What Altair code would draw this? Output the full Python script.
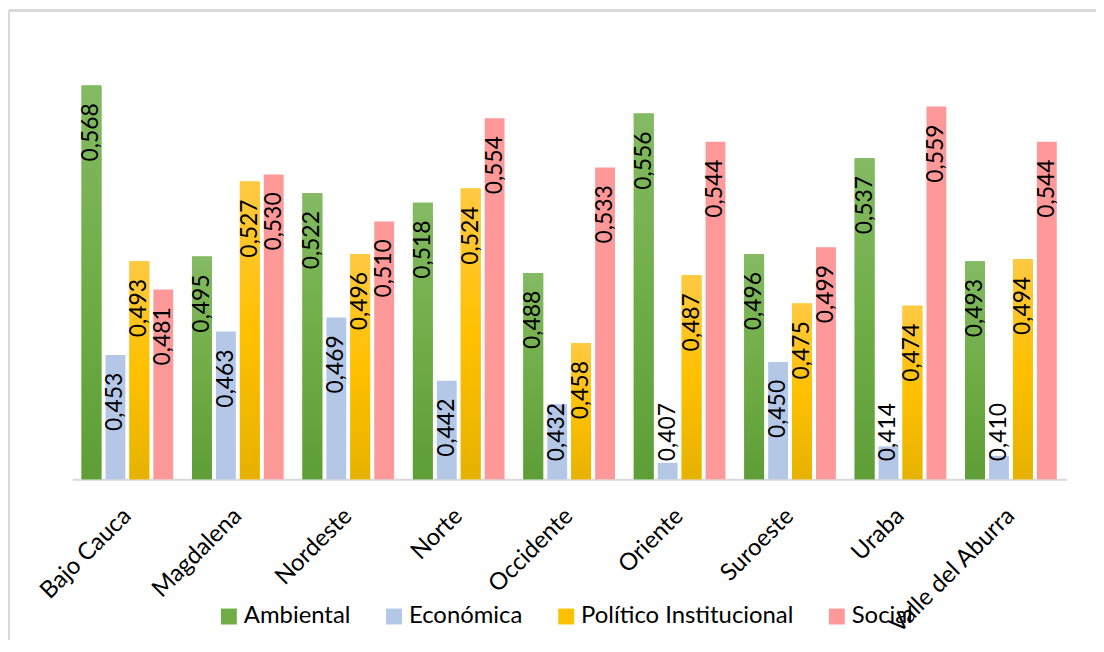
import altair as alt
import pandas as pd

regions = ["Bajo Cauca", "Magdalena", "Nordeste", "Norte", "Occidente",
           "Oriente", "Suroeste", "Uraba", "Valle del Aburra"]
series = ["Ambiental", "Económica", "Político Institucional", "Social"]
ambiental = [0.568, 0.495, 0.522, 0.518, 0.488, 0.556, 0.496, 0.537, 0.493]
economica = [0.453, 0.463, 0.469, 0.442, 0.432, 0.407, 0.450, 0.414, 0.410]
politico = [0.493, 0.527, 0.496, 0.524, 0.458, 0.487, 0.475, 0.474, 0.494]
social = [0.481, 0.530, 0.510, 0.554, 0.533, 0.544, 0.499, 0.559, 0.544]
colors = ["#70AD47", "#B4C7E7", "#FFC000", "#FF9999"]

rows = []
for s, vals in zip(series, [ambiental, economica, politico, social]):
    for r, v in zip(regions, vals):
        rows.append({"region": r, "serie": s, "valor": v,
                     "etiqueta": f"{v:.3f}".replace(".", ",")})
df = pd.DataFrame(rows)

W, H = 999, 424
FONT = "Lato"

x_enc = alt.X("region:N", sort=regions, title=None,
              scale=alt.Scale(paddingInner=0.17, paddingOuter=0.085),
              axis=alt.Axis(labelAngle=-45, labelAlign="right", labelBaseline="middle",
                            labelPadding=33, labelFontSize=24, labelFont=FONT,
                            labelColor="#000000", ticks=False, domainColor="#D9D9D9",
                            domainWidth=2, grid=False, labelLimit=400))
xo_enc = alt.XOffset("serie:N", sort=series,
                     scale=alt.Scale(domain=series, paddingInner=0.17, paddingOuter=0))
y_scale = alt.Scale(domain=[0.4, 0.58], zero=False, nice=False)
y_enc = alt.Y("valor:Q", scale=y_scale, axis=None)

base = alt.Chart(df)

bars = base.mark_bar().encode(
    x=x_enc, xOffset=xo_enc, y=y_enc, y2=alt.datum(0.4),
    color=alt.Color("serie:N", sort=series,
                    scale=alt.Scale(domain=series, range=colors),
                    legend=alt.Legend(title=None, orient="none", direction="horizontal",
                                      legendX=145.5, legendY=550, symbolType="square",
                                      symbolSize=256, symbolStrokeWidth=0,
                                      labelFontSize=24, labelFont=FONT,
                                      labelColor="#000000", columnPadding=31,
                                      labelOffset=3, padding=0, labelLimit=500)),
)

def grad(top, mid, bottom):
    return alt.Gradient(gradient="linear", x1=0, x2=0, y1=0, y2=1,
                        stops=[alt.GradientStop(color=top, offset=0),
                               alt.GradientStop(color=mid, offset=0.5),
                               alt.GradientStop(color=bottom, offset=1)])

green = base.transform_filter(alt.datum.serie == "Ambiental").mark_bar(
    fill=grad("#84BA63", "#70AD47", "#5E9E37")).encode(
    x=x_enc, xOffset=xo_enc, y=y_enc, y2=alt.datum(0.4))
gold = base.transform_filter(alt.datum.serie == "Político Institucional").mark_bar(
    fill=grad("#FFC943", "#FFC000", "#E6B200")).encode(
    x=x_enc, xOffset=xo_enc, y=y_enc, y2=alt.datum(0.4))

labels = base.transform_calculate(
    pos="max(datum.valor - 0.0076, 0.4325)"
).mark_text(angle=270, align="right", baseline="middle", fontSize=23,
            font=FONT, color="#000000").encode(
    x=x_enc, xOffset=xo_enc,
    y=alt.Y("pos:Q", scale=y_scale, axis=None),
    text="etiqueta:N")

border_top = base.mark_rule(color="#D9D9D9", strokeWidth=2).encode(
    x=alt.value(-63.5), x2=alt.value(1040), y=alt.value(-47))
border_left = base.mark_rule(color="#D9D9D9", strokeWidth=2).encode(
    x=alt.value(-63.5), y=alt.value(-47), y2=alt.value(700))

chart = alt.layer(bars, green, gold, labels, border_top, border_left).properties(
    width=W, height=H,
    padding={"left": 64.5, "top": 48, "right": 30, "bottom": 160},
    autosize=alt.AutoSizeParams(type="none"),
).configure_view(stroke=None)

chart.save("out.html", embed_options={"renderer": "svg", "actions": False})
